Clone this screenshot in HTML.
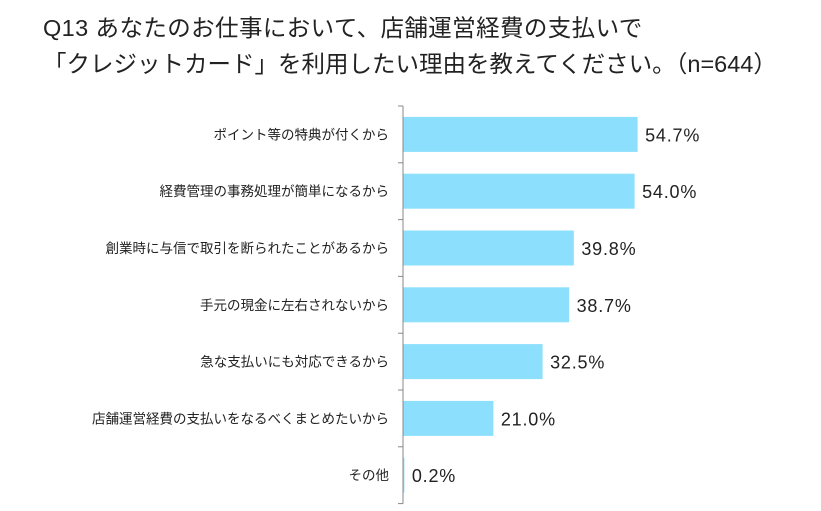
<!DOCTYPE html>
<html><head><meta charset="utf-8"><style>
body{margin:0;background:#fff;width:821px;height:511px;overflow:hidden;font-family:"Liberation Sans","Noto Sans CJK JP",sans-serif;}
.t{position:absolute;left:43px;font-size:23.5px;color:#222;white-space:nowrap;letter-spacing:0px}
</style></head><body>
<div class="t" style="top:9px;letter-spacing:0.4px">Q13 あなたのお仕事において、店舗運営経費の支払いで</div>
<div class="t" style="top:45px">「クレジットカード」を利用したい理由を教えてください。（n=644）</div>
<svg id="c" width="821" height="511" style="position:absolute;left:0;top:0"></svg>
<script>
const categories=["ポイント等の特典が付くから","経費管理の事務処理が簡単になるから","創業時に与信で取引を断られたことがあるから","手元の現金に左右されないから","急な支払いにも対応できるから","店舗運営経費の支払いをなるべくまとめたいから","その他"];
const values=[54.7,54.0,39.8,38.7,32.5,21.0,0.2];
const valueLabels=["54.7%","54.0%","39.8%","38.7%","32.5%","21.0%","0.2%"];
const svg=document.getElementById('c');const NS='http://www.w3.org/2000/svg';
const x0=403,top0=106,step=56.8,k=4.28,bh=35;
const x=v=>x0+v*k, yc=i=>top0+step*(i+0.5);
function mk(t,a){const e=document.createElementNS(NS,t);for(const n in a)e.setAttribute(n,a[n]);svg.appendChild(e);return e;}
const ax=mk('line',{x1:x0,y1:top0,x2:x0,y2:top0+step*7,stroke:'#888','stroke-width':1});


for(let i=0;i<=7;i++){const t=mk('line',{x1:x0-5,x2:x0,y1:top0+step*i,y2:top0+step*i,stroke:'#888'});

}
values.forEach((v,i)=>{
const r=mk('rect',{x:x0+0.5,y:yc(i)-bh/2,width:Math.max(0,x(v)-x0),height:bh,fill:'#8cdffd'});


const l=mk('text',{x:389,y:yc(i)+5,'text-anchor':'end','font-size':13.5,fill:'#222'});l.textContent=categories[i];


const vt=mk('text',{x:x(v)+8,y:yc(i)+7,'font-size':18,'letter-spacing':0.8,fill:'#222'});vt.textContent=valueLabels[i];


});
</script>
</body></html>
